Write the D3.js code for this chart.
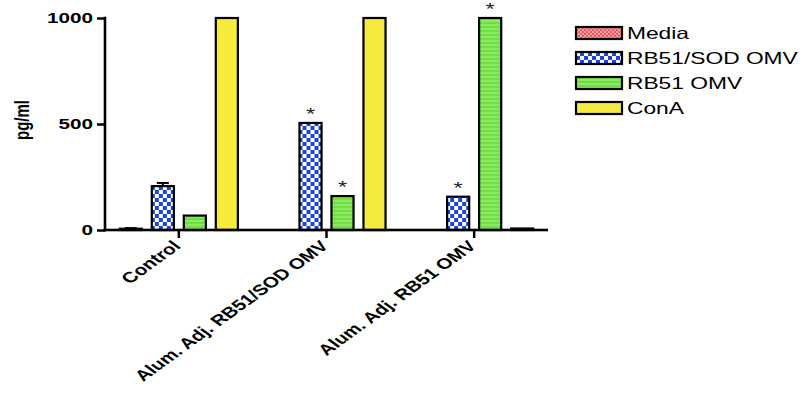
<!DOCTYPE html>
<html>
<head>
<meta charset="utf-8">
<script src="https://cdn.jsdelivr.net/npm/d3@7"></script>
<style>
  body { margin: 0; background: #fff; }
  svg { display: block; font-family: "Liberation Sans", Arial, sans-serif; }
</style>
</head>
<body>
<svg id="chart" width="808" height="407"></svg>
<script>
// data
const categories = ["Control", "Alum. Adj. RB51/SOD OMV", "Alum. Adj. RB51 OMV"]
const series = ["Media", "RB51/SOD OMV", "RB51 OMV", "ConA"]
const values = [
    [6, 207, 68, 1000],   // Control
    [0, 505, 160, 1000],  // Alum. Adj. RB51/SOD OMV
    [0, 157, 1000, 7]     // Alum. Adj. RB51 OMV
]
const errors = [
    [3, 15, 0, 0],
    [0, 0, 0, 0],
    [0, 0, 0, 0]
]
const stars = [
    [false, false, false, false],
    [false, true, true, false],
    [false, true, true, false]
]
const yTicks = [0, 500, 1000]

// the source figure is stretched sideways, so the text is too
const stretch = 1.38

const svg = d3.select("#chart")
const defs = svg.append("defs")

// fill patterns, one per series
function checker(id, bg, fg, size) {
    const p = defs.append("pattern").attr("id", id)
        .attr("patternUnits", "userSpaceOnUse")
        .attr("width", size * 2).attr("height", size * 2)
    p.append("rect").attr("width", size * 2).attr("height", size * 2).attr("fill", bg)
    p.append("rect").attr("width", size).attr("height", size).attr("fill", fg)
    p.append("rect").attr("x", size).attr("y", size).attr("width", size).attr("height", size).attr("fill", fg)
}
checker("pMedia", "#e85a5e", "#f7a3a5", 2)
checker("pSod", "#1c44d6", "#ffffff", 4)

const pg = defs.append("pattern").attr("id", "pRb")
    .attr("patternUnits", "userSpaceOnUse").attr("width", 8).attr("height", 4)
pg.append("rect").attr("width", 8).attr("height", 4).attr("fill", "#6fe03f")
pg.append("rect").attr("y", 2.5).attr("width", 8).attr("height", 1).attr("fill", "#a8f08a")

const py = defs.append("pattern").attr("id", "pConA")
    .attr("patternUnits", "userSpaceOnUse").attr("width", 6).attr("height", 6)
py.append("rect").attr("width", 6).attr("height", 6).attr("fill", "#f7ec3a")
py.append("rect").attr("x", 4).attr("width", 1).attr("height", 6).attr("fill", "#f3e45a")

const fills = ["url(#pMedia)", "url(#pSod)", "url(#pRb)", "url(#pConA)"]

const margin = { left: 105, right: 260, top: 18, bottom: 177 }
const width = 808 - margin.left - margin.right
const height = 407 - margin.top - margin.bottom

const g = svg.append("g").attr("transform", `translate(${margin.left},${margin.top})`)

const x = d3.scaleBand().domain(categories).range([0, width])
const xs = d3.scaleBand().domain(series)
    .range([-64, 64]).paddingInner(0.31).paddingOuter(0.155)
const y = d3.scaleLinear().domain([0, 1000]).range([height, 0])

// bars
const groups = g.selectAll(".grp")
    .data(categories)
    .join("g")
        .attr("class", "grp")
        .attr("transform", d => `translate(${x(d) + x.bandwidth() / 2},0)`)

groups.each(function (cat, ci) {
    const grp = d3.select(this)
    const rows = series.map((s, si) => ({ s: s, si: si, v: values[ci][si], e: errors[ci][si], star: stars[ci][si] }))

    // error bars
    rows.filter(d => d.e > 0 && d.v > 0).forEach(d => {
        const cx = xs(d.s) + xs.bandwidth() / 2
        grp.append("line")
            .attr("x1", cx).attr("x2", cx)
            .attr("y1", y(d.v)).attr("y2", y(d.v + d.e))
            .attr("stroke", "#000").attr("stroke-width", 2)
        grp.append("line")
            .attr("x1", cx - 6).attr("x2", cx + 6)
            .attr("y1", y(d.v + d.e)).attr("y2", y(d.v + d.e))
            .attr("stroke", "#000").attr("stroke-width", 2)
    })

    grp.selectAll("rect")
        .data(rows.filter(d => d.v > 0))
        .join("rect")
            .attr("x", d => xs(d.s))
            .attr("y", d => y(d.v))
            .attr("width", xs.bandwidth())
            .attr("height", d => height - y(d.v))
            .attr("fill", d => fills[d.si])
            .attr("stroke", "#000")
            .attr("stroke-width", 2.2)

    grp.selectAll(".star")
        .data(rows.filter(d => d.star))
        .join("text")
            .attr("class", "star")
            .attr("transform", d => `translate(${xs(d.s) + xs.bandwidth() / 2},${y(d.v) - 3}) scale(${stretch},1)`)
            .attr("text-anchor", "middle")
            .attr("font-size", 17)
            .attr("fill", "#222")
            .text("*")
})

// axes
const yAxis = g.append("g")
    .call(d3.axisLeft(y).tickValues(yTicks).tickFormat(d3.format("d")).tickSize(8))
yAxis.select(".domain").remove()
yAxis.selectAll(".tick line").attr("stroke", "#000").attr("stroke-width", 2.5)
yAxis.selectAll("text")
    .attr("font-size", 15).attr("font-weight", "bold").attr("fill", "#000")
    .attr("x", 0)
    .attr("transform", `translate(-12,0) scale(${stretch},1)`)

const xAxis = g.append("g")
    .attr("transform", `translate(0,${height})`)
    .call(d3.axisBottom(x).tickSize(8).tickSizeOuter(0))
xAxis.select(".domain").remove()
xAxis.selectAll(".tick line").attr("stroke", "#000").attr("stroke-width", 2.5)
xAxis.selectAll("text")
    .attr("font-size", 15).attr("font-weight", "bold").attr("fill", "#000")
    .attr("text-anchor", "end")
    .attr("dy", 0).attr("y", 0)
    .attr("transform", `translate(3,17) scale(${stretch},1) rotate(-45)`)

// axis lines as filled strips, on top of the bar bases
const lw = 2.6
g.append("rect")
    .attr("class", "axis-y")
    .attr("x", -lw / 2).attr("y", y(1000) - lw / 2)
    .attr("width", lw).attr("height", y(0) - y(1000) + lw)
    .attr("fill", "#000")
g.append("rect")
    .attr("class", "axis-x")
    .attr("x", -lw / 2).attr("y", y(0) - lw / 2)
    .attr("width", width + lw / 2).attr("height", lw)
    .attr("fill", "#000")

svg.append("text")
    .attr("transform", `translate(29,${margin.top + height / 2 - 4}) scale(${stretch},1) rotate(-90)`)
    .attr("text-anchor", "middle")
    .attr("font-size", 15).attr("font-weight", "bold")
    .text("pg/ml")

// legend
const legend = svg.append("g").attr("transform", "translate(576,27)")
const item = legend.selectAll("g")
    .data(series)
    .join("g")
        .attr("transform", (d, i) => `translate(0,${i * 25})`)
item.append("rect")
    .attr("width", 46).attr("height", 12)
    .attr("fill", (d, i) => fills[i])
    .attr("stroke", "#000").attr("stroke-width", 2.2)
item.append("text")
    .attr("transform", `translate(51,12) scale(${stretch},1)`)
    .attr("font-size", 16.5)
    .text(d => d)
</script>
</body>
</html>
